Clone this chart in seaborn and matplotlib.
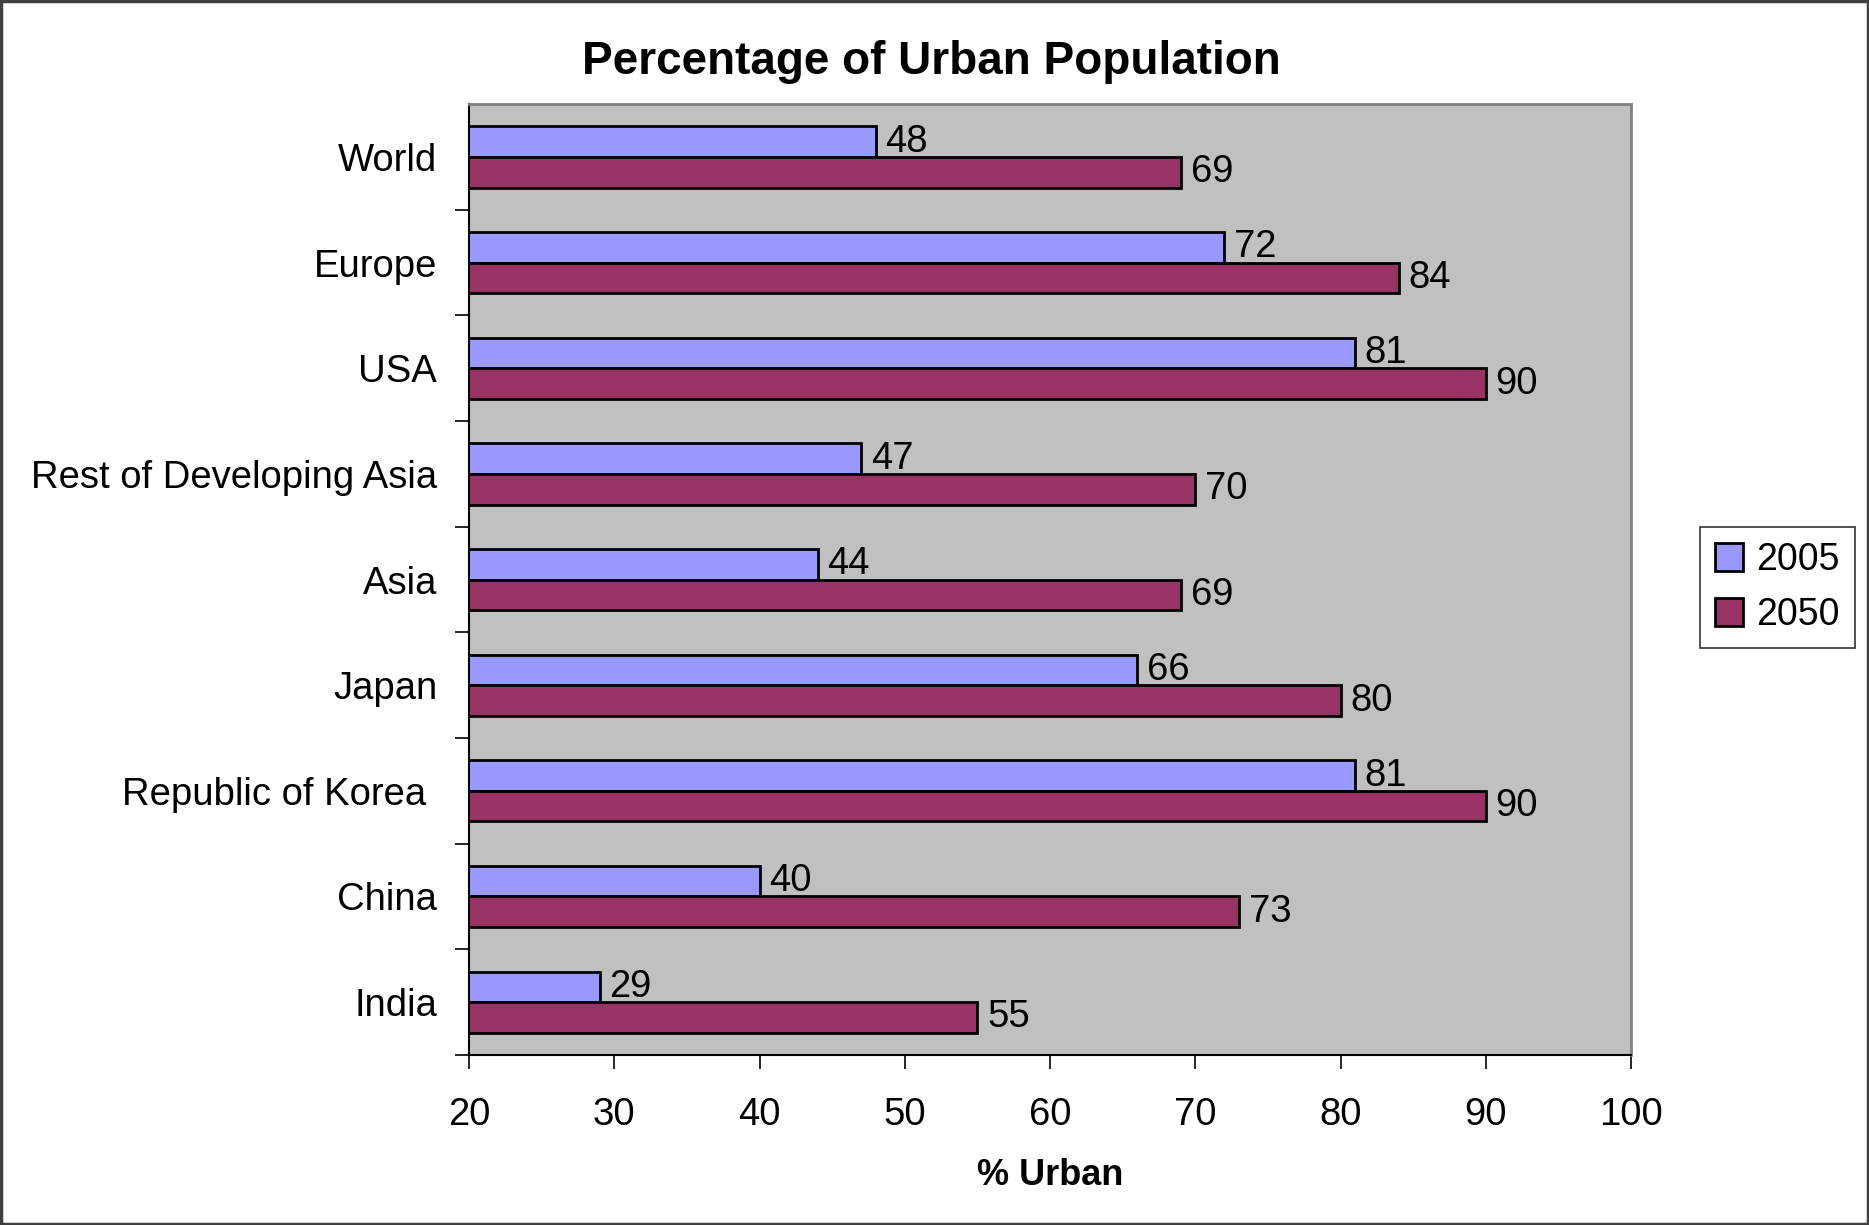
import matplotlib
matplotlib.use("Agg")
import matplotlib.pyplot as plt
from matplotlib.patches import Rectangle
from matplotlib.ticker import FixedLocator
import seaborn as sns
import pandas as pd

regions = ["World", "Europe", "USA", "Rest of Developing Asia", "Asia",
           "Japan", "Republic of Korea ", "China", "India"]
urban_2005 = [48, 72, 81, 47, 44, 66, 81, 40, 29]
urban_2050 = [69, 84, 90, 70, 69, 80, 90, 73, 55]
years = ["2005", "2050"]
x_ticks = [20, 30, 40, 50, 60, 70, 80, 90, 100]

df = pd.DataFrame({
    "region": regions * 2,
    "pct": urban_2005 + urban_2050,
    "year": [years[0]] * len(regions) + [years[1]] * len(regions),
})

sns.set_theme(style="white")
plt.rcParams["font.family"] = ["Liberation Sans", "DejaVu Sans"]
plt.rcParams["text.color"] = "black"
plt.rcParams["axes.labelcolor"] = "black"
plt.rcParams["xtick.color"] = "black"
plt.rcParams["ytick.color"] = "black"

fig = plt.figure(figsize=(18.69, 12.25), dpi=100)
ax = fig.add_axes([0.251, 0.1388, 0.6217, 0.7762])
ax.set_facecolor("#C0C0C0")

sns.barplot(data=df, y="region", x="pct", hue="year", orient="h",
            order=regions, hue_order=years,
            palette=["#9999FF", "#993366"], saturation=1, width=0.58, gap=0,
            edgecolor="black", linewidth=2, ax=ax, legend=True)

for cont in ax.containers:
    ax.bar_label(cont, fmt="%d", padding=7, fontsize=27.5, color="black")

ax.set_xlim(20, 100)
ax.set_ylim(len(regions) - 0.5, -0.5)
ax.set_xticks(x_ticks)
ax.tick_params(axis="x", labelsize=27.5, length=10, width=1.2, color="black",
               direction="out", pad=20, bottom=True)
ax.tick_params(axis="y", which="major", labelsize=27.5, length=0, pad=23)
ax.yaxis.set_minor_locator(FixedLocator([i + 0.5 for i in range(len(regions))]))
ax.tick_params(axis="y", which="minor", length=10, width=1.2, color="black",
               direction="out", left=True)

ax.set_ylabel("")
ax.set_xlabel("% Urban", fontsize=26, fontweight="bold", labelpad=18)

for side in ["left", "bottom"]:
    ax.spines[side].set_color("black")
    ax.spines[side].set_linewidth(1.5)
for side in ["top", "right"]:
    ax.spines[side].set_color("#808080")
    ax.spines[side].set_linewidth(2)

leg = ax.legend(loc="center left", bbox_to_anchor=(0.9096, 0.5203),
                bbox_transform=fig.transFigure, borderaxespad=0,
                fontsize=27, frameon=True, fancybox=False, edgecolor="black",
                handlelength=0.75, handleheight=0.75, handletextpad=0.35,
                borderpad=0.4, labelspacing=0.5, title=None)
leg.get_frame().set_linewidth(1.2)

fig.text(0.4985, 0.949, "Percentage of Urban Population", ha="center",
         va="center", fontsize=33, fontweight="bold")

fig.patches.append(Rectangle((0.0005, 0.0005), 0.999, 0.999,
                             transform=fig.transFigure, fill=False,
                             edgecolor="#404040", linewidth=2.5))

fig.savefig("out.png", dpi=100)
